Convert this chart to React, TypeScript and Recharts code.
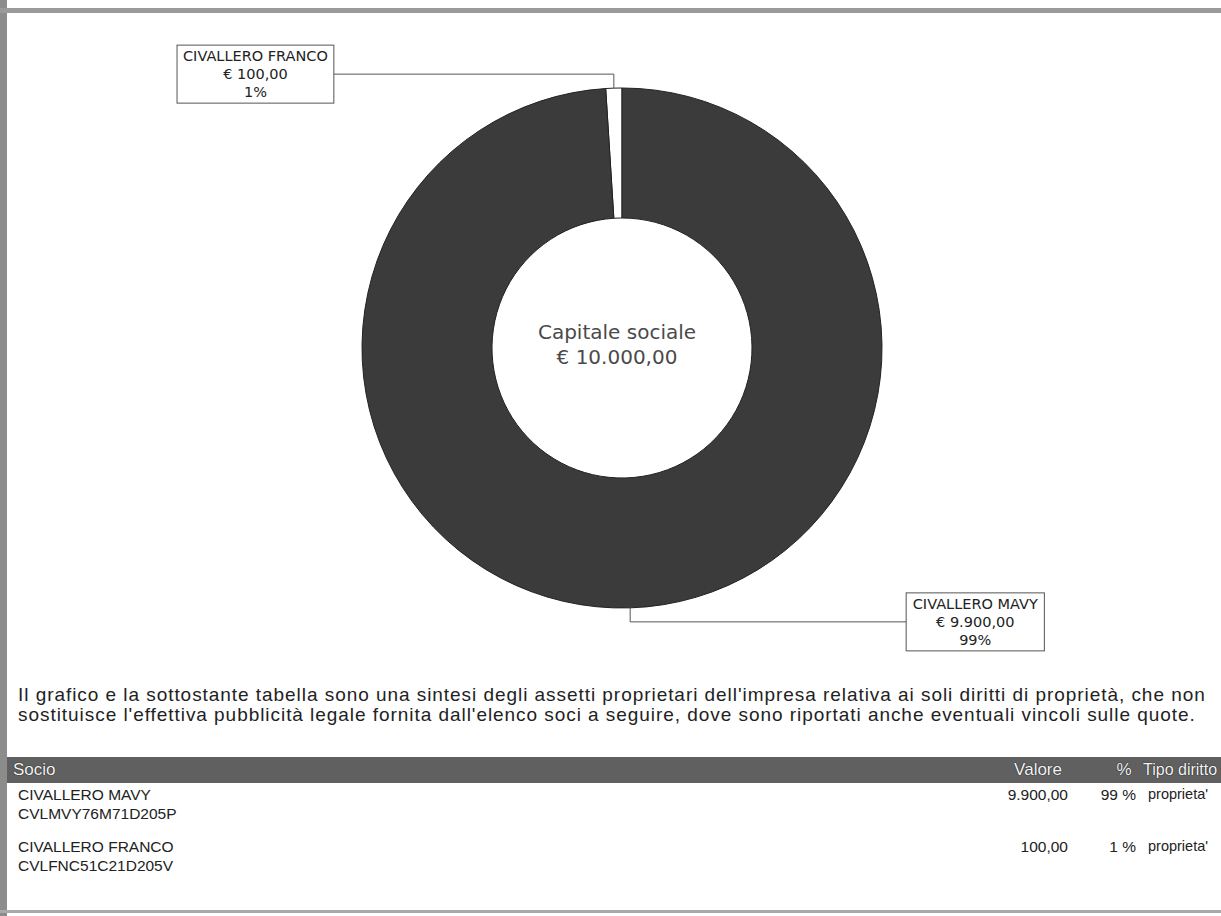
import { PieChart, Pie, Cell } from "recharts";

// dati
const soci = ["CIVALLERO MAVY", "CIVALLERO FRANCO"];
const codiciFiscali = ["CVLMVY76M71D205P", "CVLFNC51C21D205V"];
const valori = [9900, 100];
const percentuali = [99, 1];
const tipiDiritto = ["proprieta'", "proprieta'"];
const capitaleSociale = 10000;

const fillColors = ["#3b3b3b", "#ffffff"];

const formatEuro = (v: number) => {
  const [i, d] = v.toFixed(2).split(".");
  return i.replace(/\B(?=(\d{3})+(?!\d))/g, ".") + "," + d;
};

// Franco first so the small slice starts at 12 o'clock and goes left
const order = [1, 0];
const chartData = order.map((i) => ({
  name: soci[i],
  value: valori[i],
  pct: percentuali[i],
  fill: fillColors[i],
}));

const CX = 617;
const CY = 343;
const RADIAN = Math.PI / 180;

const renderLabel = (props: any) => {
  const { cx, cy, midAngle, outerRadius, payload, index } = props;
  const sx = cx + outerRadius * Math.cos(-midAngle * RADIAN);
  const sy = cy + outerRadius * Math.sin(-midAngle * RADIAN);
  const up = sy < cy;
  const ey = sy + (up ? -14 : 14);
  const left = sx < cx;
  const ex = sx + (left ? -280 : 276);
  const name = payload.name as string;
  const w = name.length * 9.3 + 8;
  const bx = left ? ex - w : ex;
  const tx = bx + w / 2;
  return (
    <g key={`lbl-${index}`}>
      <path
        d={`M${sx},${sy} L${sx},${ey} L${ex},${ey}`}
        stroke="#555"
        strokeWidth={1}
        fill="none"
      />
      <rect x={bx} y={ey - 29} width={w} height={58} fill="#fff" stroke="#555" strokeWidth={1} />
      <text x={tx} textAnchor="middle" fontFamily="DejaVu Sans" fontSize={14.5} fill="#222">
        <tspan x={tx} y={ey - 13}>{name}</tspan>
        <tspan x={tx} y={ey + 5}>€ {formatEuro(payload.value)}</tspan>
        <tspan x={tx} y={ey + 23}>{payload.pct}%</tspan>
      </text>
    </g>
  );
};

const cell = (extra: any) => ({
  position: "absolute" as const,
  fontFamily: "'Liberation Sans', Arial, sans-serif",
  fontSize: 15.5,
  lineHeight: "19px",
  color: "#222",
  whiteSpace: "nowrap" as const,
  ...extra,
});

const head = (extra: any) => ({
  position: "absolute" as const,
  fontFamily: "'Liberation Sans', Arial, sans-serif",
  fontSize: 16,
  lineHeight: "26px",
  color: "#f4f4f4",
  textShadow: "0 0 1px #222, 0 0 1px #222",
  whiteSpace: "nowrap" as const,
  top: 757,
  ...extra,
});

export default function App() {
  return (
    <div
      style={{
        position: "absolute",
        left: 0,
        top: 0,
        width: 1221,
        height: 916,
        overflow: "hidden",
        background: "#fff",
      }}
    >
      {/* bordi della pagina scansionata */}
      <div style={{ position: "absolute", left: 0, top: 0, width: 7, height: 916, background: "#8c8c8c" }} />
      <div style={{ position: "absolute", left: 0, top: 8, width: 1221, height: 5, background: "#9a9a9a" }} />
      <div style={{ position: "absolute", left: 0, top: 910, width: 1221, height: 3, background: "#aaa" }} />

      <div style={{ position: "absolute", left: 0, top: 0 }}>
        <PieChart width={1221} height={680}>
          <Pie
            data={chartData}
            dataKey="value"
            nameKey="name"
            cx={CX}
            cy={CY}
            innerRadius={130}
            outerRadius={260}
            startAngle={90}
            endAngle={450}
            stroke="#222"
            strokeWidth={1}
            label={renderLabel}
            labelLine={false}
            isAnimationActive={false}
          >
            {chartData.map((d, i) => (
              <Cell key={`cell-${i}`} fill={d.fill} />
            ))}
          </Pie>
          <text textAnchor="middle" fontFamily="DejaVu Sans" fontSize={20} fill="#4a4a4a">
            <tspan x={CX} y={CY - 4}>Capitale sociale</tspan>
            <tspan x={CX} y={CY + 21}>€ {formatEuro(capitaleSociale)}</tspan>
          </text>
        </PieChart>
      </div>

      <div
        style={{
          position: "absolute",
          left: 18,
          top: 685,
          width: 1203,
          fontFamily: "'Liberation Sans', Arial, sans-serif",
          fontSize: 19,
          letterSpacing: 0.95,
          lineHeight: "20px",
          color: "#222",
          whiteSpace: "nowrap",
        }}
      >
        Il grafico e la sottostante tabella sono una sintesi degli assetti proprietari dell'impresa relativa ai soli
        diritti di proprietà, che non
        <br />
        sostituisce l'effettiva pubblicità legale fornita dall'elenco soci a seguire, dove sono riportati anche
        eventuali vincoli sulle quote.
      </div>

      {/* tabella */}
      <div style={{ position: "absolute", left: 7, top: 757, width: 1214, height: 26, background: "#606060" }} />
      <div style={head({ left: 13, fontSize: 17 })}>Socio</div>
      <div style={head({ left: 950, width: 112, textAlign: "right", fontSize: 17 })}>Valore</div>
      <div style={head({ left: 1104, width: 40, textAlign: "center", fontSize: 17 })}>%</div>
      <div style={head({ left: 1143 })}>Tipo diritto</div>

      {soci.map((s, i) => {
        const top = 785 + i * 52;
        return (
          <div key={s}>
            <div style={cell({ left: 18, top })}>
              {s}
              <br />
              {codiciFiscali[i]}
            </div>
            <div style={cell({ left: 940, width: 128, textAlign: "right", top })}>
              {formatEuro(valori[i])}
            </div>
            <div style={cell({ left: 1076, width: 60, textAlign: "right", top })}>
              {percentuali[i]} %
            </div>
            <div style={cell({ left: 1148, width: 60, textAlign: "center", top, fontSize: 14.5 })}>
              {tipiDiritto[i]}
            </div>
          </div>
        );
      })}
    </div>
  );
}
